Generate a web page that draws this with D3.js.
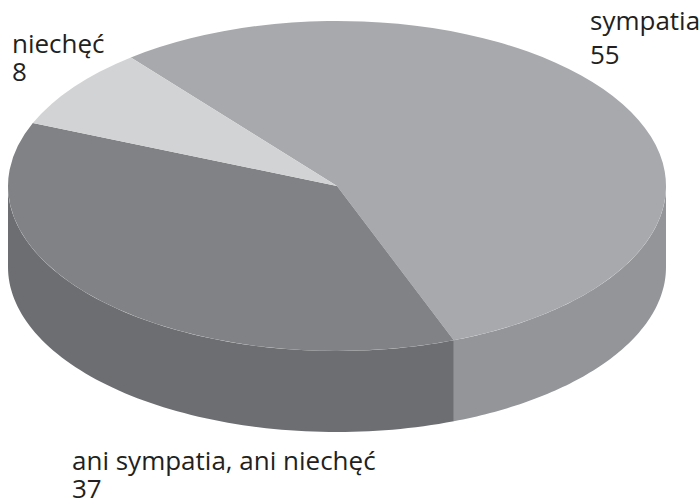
<!DOCTYPE html>
<html><head><meta charset="utf-8">
<script src="https://cdn.jsdelivr.net/npm/d3@7"></script>
<style>html,body{margin:0;padding:0;background:#fff}svg{display:block}</style>
</head><body><svg id="c" width="699" height="498"></svg>
<script>
const categories = ["sympatia", "ani sympatia, ani niechęć", "niechęć"];
const values = [55, 37, 8];
const topColors = ["#a7a9ac", "#808285", "#d1d3d4"];
const sideColors = ["#939598", "#6d6e71", "#d1d3d4"];
const labelPos = [[590, 30, 64], [72, 470, 498], [12, 53, 81]];

const cx = 337, cy = 186, rx = 329, ry = 165, depth = 81;
const deg = Math.PI / 180;
const svg = d3.select("#c");
const pie = d3.pie().sort(null).value(d => d).startAngle(-38.8 * deg).endAngle(321.2 * deg);
const arcs = pie(values);
const arc = d3.arc().innerRadius(0).outerRadius(rx);

const px = a => cx + rx * Math.sin(a), py = a => cy - ry * Math.cos(a);
function wall(a0, a1) {
  const p = d3.path();
  p.moveTo(px(a0), py(a0));
  const steps = 80;
  const s = d3.scaleLinear().domain([0, steps]).range([a0, a1]);
  d3.range(1, steps + 1).forEach(i => p.lineTo(px(s(i)), py(s(i))));
  d3.range(steps, -1, -1).forEach(i => p.lineTo(px(s(i)), py(s(i)) + depth));
  p.closePath();
  return p.toString();
}
arcs.forEach((d, i) => {
  const a0 = Math.max(d.startAngle, Math.PI / 2), a1 = Math.min(d.endAngle, 3 * Math.PI / 2);
  if (a1 > a0) svg.append("path").attr("d", wall(a0, a1)).attr("fill", sideColors[i]);
});
svg.append("g").attr("transform", `translate(${cx},${cy}) scale(1,${ry / rx})`)
  .selectAll("path").data(arcs).join("path")
  .attr("d", arc).attr("fill", (d, i) => topColors[i]);

const font = "'Open Sans', sans-serif";
categories.forEach((c, i) => {
  const [x, y1, y2] = labelPos[i];
  [[c, y1], [String(values[i]), y2]].forEach(([t, y]) => {
    svg.append("text").attr("x", x).attr("y", y).text(t)
      .attr("font-family", font).attr("font-size", 26).attr("fill", "#231f20");
  });
});
</script></body></html>
